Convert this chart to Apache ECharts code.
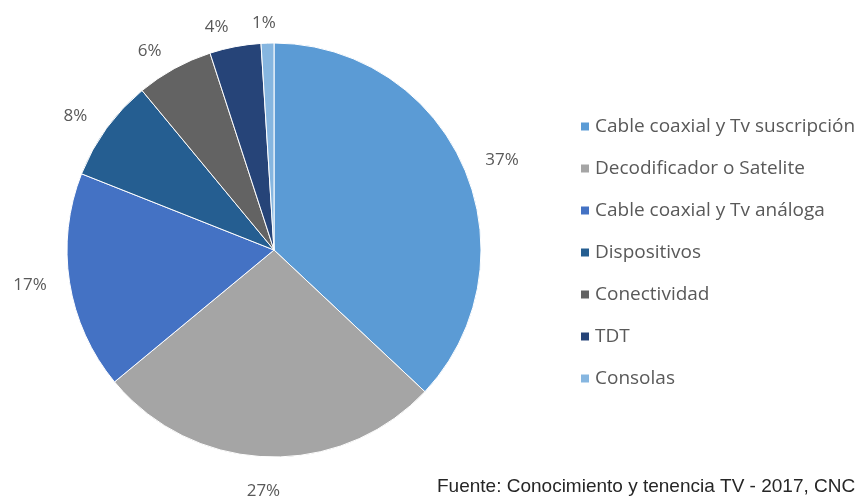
<!DOCTYPE html>
<html>
<head>
<meta charset="utf-8">
<script src="https://cdn.jsdelivr.net/npm/echarts@6/dist/echarts.min.js"></script>
<style>html,body{margin:0;padding:0;background:#fff;}#chart{width:864px;height:500px;}</style>
</head>
<body>
<div id="chart"></div>
<script>
var categories = ['Cable coaxial y Tv suscripción', 'Decodificador o Satelite', 'Cable coaxial y Tv análoga', 'Dispositivos', 'Conectividad', 'TDT', 'Consolas'];
var values = [37, 27, 17, 8, 6, 4, 1];
var colors = ['#5B9BD5', '#A5A5A5', '#4472C4', '#255E91', '#636363', '#264478', '#86B6E0'];
var sourceText = 'Fuente: Conocimiento y tenencia TV - 2017, CNC';

var chart = echarts.init(document.getElementById('chart'));
var data = categories.map(function (c, i) {
  var d = { name: c, value: values[i], itemStyle: { color: colors[i] } };
  if (i === 1) { d.labelLine = { length: 34, length2: 0 }; }
  return d;
});
chart.setOption({
  animation: false,
  backgroundColor: '#fff',
  legend: {
    orient: 'vertical',
    left: 574,
    top: 112,
    icon: 'rect',
    itemWidth: 10,
    itemHeight: 10,
    itemGap: 23,
    textStyle: { fontFamily: 'Open Sans', fontSize: 19, color: '#595959', lineHeight: 18 },
    data: categories
  },
  graphic: [{
    type: 'text',
    left: 437,
    top: 477,
    style: { text: sourceText, fontFamily: 'Liberation Sans', fontSize: 19, fill: '#262626' }
  }],
  series: [{
    type: 'pie',
    center: [274, 250],
    radius: 207,
    startAngle: 90,
    clockwise: true,
    avoidLabelOverlap: false,
    itemStyle: { borderColor: '#ffffff', borderWidth: 1 },
    label: {
      show: true,
      position: 'outside',
      formatter: '{c}%',
      fontFamily: 'Open Sans',
      fontSize: 17,
      color: '#595959',
      distanceToLabelLine: 3
    },
    labelLine: { show: false, length: 20, length2: 0 },
    labelLayout: function (params) {
      if (params.dataIndex === 1 || params.dataIndex === 6) {
        return { align: 'center' };
      }
      return {};
    },
    emphasis: { disabled: true },
    data: data
  }]
});
</script>
</body>
</html>
